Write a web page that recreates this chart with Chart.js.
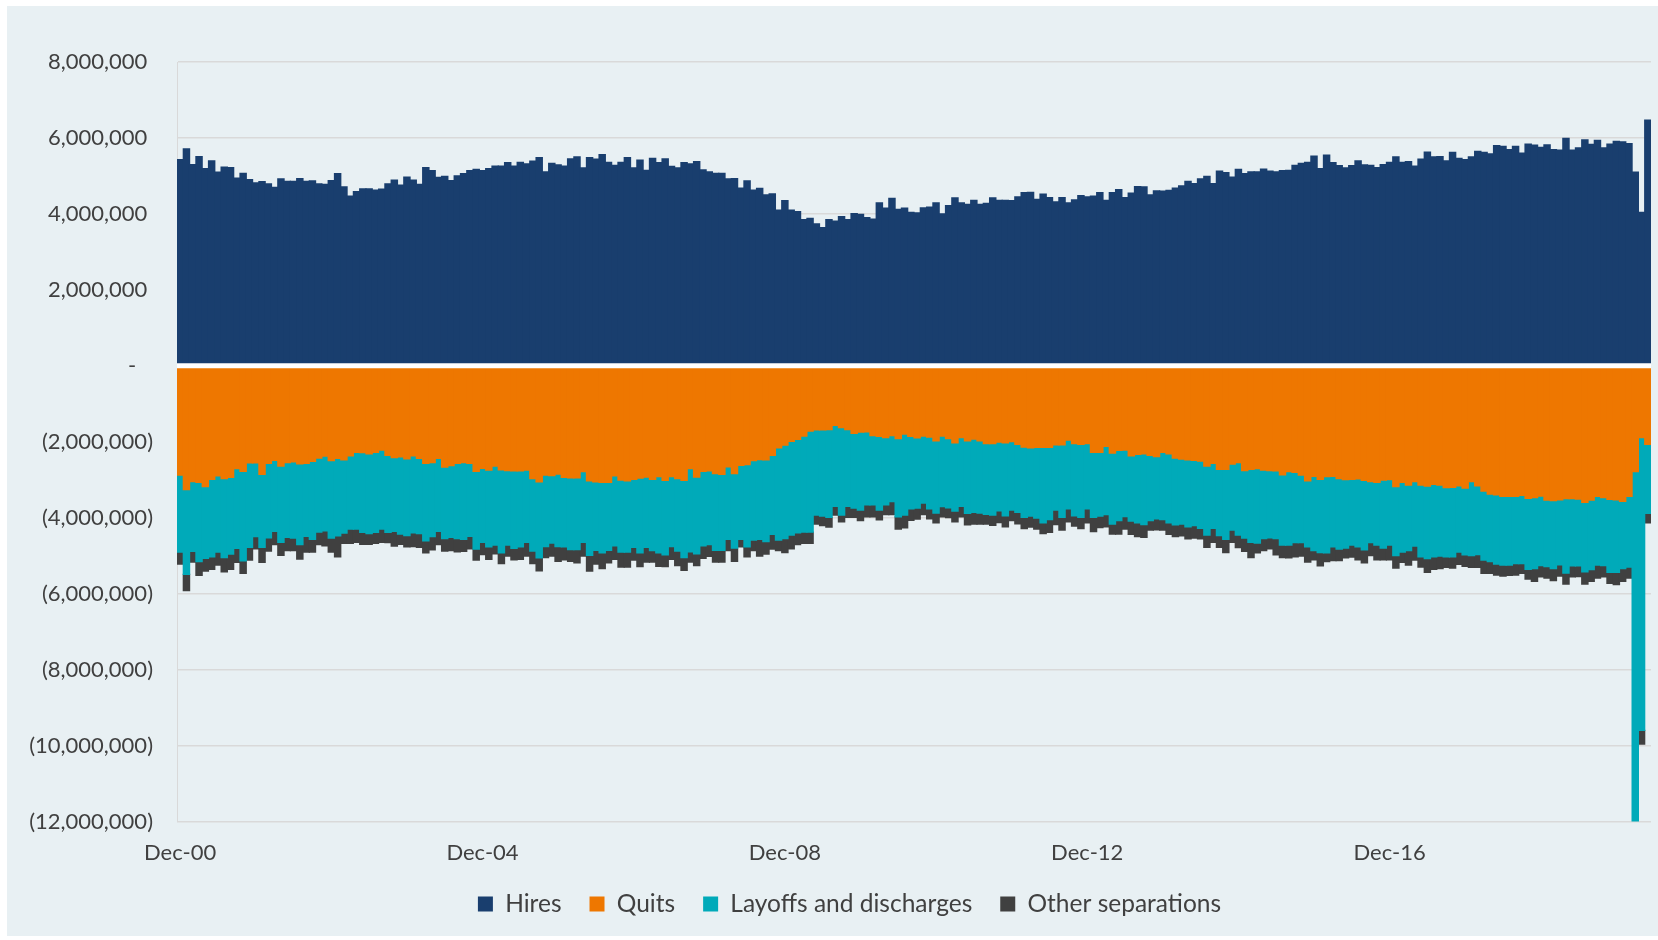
<!DOCTYPE html>
<html>
<head>
<meta charset="utf-8">
<title>Hires and separations</title>
<script src="https://cdn.jsdelivr.net/npm/chart.js@4.4.1/dist/chart.umd.min.js"></script>
<style>
    html, body { margin: 0; padding: 0; background: #ffffff; }
    #wrap { position: relative; width: 1658px; height: 940px; }
</style>
</head>
<body>
<div id="wrap"><canvas id="jobsChart" width="1658" height="940"></canvas></div>
<script>
// Monthly values in millions, Dec 2000 .. May 2020
const hires = [
    5.43,5.71,5.30,5.51,5.19,5.40,5.10,5.23,5.22,4.94,5.07,4.90,4.82,4.85,4.79,4.70,4.92,4.86,4.86,4.93,
    4.86,4.87,4.79,4.78,4.88,5.06,4.71,4.47,4.59,4.66,4.66,4.63,4.65,4.79,4.89,4.76,4.97,4.89,4.78,5.22,
    5.14,4.96,4.99,4.88,5.00,
    5.06,5.14,5.17,5.14,5.19,5.26,5.26,5.35,5.26,5.36,5.32,5.39,5.48,5.11,5.33,5.29,5.26,5.45,5.50,5.21,
    5.48,5.44,5.56,5.36,5.28,5.36,5.48,5.21,5.42,5.15,5.46,5.35,5.45,5.25,5.21,5.35,5.32,5.38,5.16,5.11,
    5.07,5.07,4.92,4.93,4.68,4.87,4.63,
    4.67,4.50,4.53,4.10,4.35,4.10,4.06,3.85,3.88,3.74,3.64,3.85,3.81,3.93,3.85,4.01,3.99,3.90,3.86,4.29,
    4.15,4.41,4.12,4.15,4.04,4.03,4.16,4.18,4.29,4.00,4.22,4.42,4.29,4.25,4.36,4.25,4.28,4.42,4.36,4.36,
    4.35,4.45,4.56,4.57,4.38,4.52,
    4.43,4.32,4.43,4.29,4.37,4.48,4.45,4.47,4.56,4.36,4.56,4.64,4.43,4.55,4.72,4.71,4.50,4.61,4.60,4.62,
    4.68,4.74,4.86,4.80,4.92,4.99,4.80,5.13,5.09,4.97,5.17,5.06,5.11,5.11,5.18,5.13,5.11,5.14,5.15,5.28,
    5.33,5.36,5.52,5.19,5.55,5.35,
    5.27,5.21,5.27,5.40,5.29,5.28,5.22,5.30,5.36,5.50,5.36,5.38,5.26,5.44,5.63,5.50,5.51,5.40,5.62,5.46,
    5.43,5.50,5.65,5.62,5.58,5.80,5.78,5.69,5.78,5.60,5.84,5.81,5.75,5.82,5.69,5.68,5.99,5.68,5.74,5.95,
    5.83,5.94,5.74,5.84,5.91,5.90,5.85,5.10,4.04,6.47
];

const quits = [
    2.88,3.26,3.05,3.07,3.18,2.99,2.90,2.97,2.94,2.71,2.78,2.56,2.56,2.86,2.57,2.49,2.64,2.55,2.53,2.58,
    2.57,2.52,2.43,2.38,2.50,2.44,2.48,2.37,2.28,2.29,2.32,2.28,2.22,2.36,2.42,2.40,2.45,2.37,2.44,2.57,
    2.55,2.44,2.67,2.63,2.57,
    2.55,2.57,2.78,2.70,2.75,2.64,2.74,2.76,2.77,2.77,2.75,2.97,3.06,2.88,2.89,2.85,2.94,2.95,2.95,2.79,
    3.03,3.06,3.07,3.07,2.90,3.01,3.03,2.99,2.96,2.93,2.99,2.92,3.02,2.92,2.97,3.02,2.71,2.93,2.78,2.77,
    2.84,2.86,2.66,2.84,2.62,2.60,
    2.50,2.47,2.48,2.36,2.16,2.09,1.99,1.94,1.85,1.72,1.69,1.69,1.68,1.57,1.63,1.68,1.78,1.75,1.74,1.84,
    1.86,1.89,1.84,1.92,1.80,1.86,1.90,1.85,1.88,1.98,1.85,1.92,2.03,1.89,1.98,1.93,1.98,2.05,2.05,2.01,
    2.03,2.00,2.07,2.14,2.16,2.15,
    2.15,2.15,2.08,2.08,1.96,2.05,2.07,2.05,2.28,2.28,2.12,2.30,2.23,2.22,2.37,2.33,2.32,2.36,2.39,2.28,
    2.32,2.43,2.46,2.48,2.49,2.51,2.64,2.57,2.73,2.73,2.59,2.55,2.76,2.73,2.71,2.75,2.76,2.77,2.87,2.79,
    2.81,2.88,3.03,2.91,2.99,2.92,
    2.91,2.97,3.00,2.99,2.98,3.02,3.05,3.07,3.01,3.00,3.18,3.07,3.14,3.05,3.14,3.17,3.12,3.14,3.21,3.20,
    3.16,3.22,3.05,3.16,3.30,3.38,3.40,3.44,3.44,3.44,3.41,3.49,3.47,3.43,3.54,3.55,3.53,3.50,3.50,3.51,
    3.60,3.54,3.44,3.47,3.52,3.53,3.57,3.44,2.79,1.89,2.07
];

const layoffs = [
    2.03,2.23,1.84,2.09,1.89,2.04,2.01,2.08,2.02,2.10,2.36,2.22,1.94,1.92,1.96,1.87,2.01,1.97,2.01,2.13,
    1.92,2.05,1.95,1.97,2.04,2.04,1.93,1.93,2.02,2.10,2.10,2.11,2.08,2.03,1.94,2.03,2.02,2.03,1.98,2.04,
    1.95,1.92,1.88,1.89,1.98,
    2.02,1.92,2.05,1.95,2.02,2.08,2.19,1.96,2.04,2.00,1.90,1.91,2.00,1.88,1.78,1.91,1.83,1.89,1.89,1.86,
    1.96,1.80,1.86,1.79,1.84,1.90,1.88,1.79,1.97,1.85,1.88,2.01,1.96,1.84,1.91,2.03,2.19,2.02,1.96,1.94,
    2.02,2.00,1.91,1.96,1.95,2.17,
    2.09,2.10,2.15,2.08,2.43,2.46,2.47,2.46,2.53,2.66,2.24,2.27,2.31,2.13,2.30,2.02,1.97,2.05,1.92,1.82,
    1.94,1.77,1.74,2.06,2.13,1.91,1.85,1.77,1.89,1.90,1.86,1.82,1.80,1.81,1.91,1.93,1.90,1.86,1.88,1.81,
    1.92,1.80,1.79,1.85,1.80,1.86,
    1.99,1.90,1.72,1.91,1.81,1.90,1.92,1.72,1.71,1.68,1.80,1.87,1.85,1.75,1.72,1.81,1.86,1.72,1.64,1.77,
    1.82,1.76,1.71,1.76,1.72,1.77,1.82,1.71,1.74,1.84,1.74,1.91,1.78,1.92,1.96,1.80,1.77,1.78,1.85,1.93,
    1.85,1.78,1.74,1.96,1.93,2.01,
    1.86,1.86,1.80,1.73,1.79,1.83,1.61,1.65,1.79,1.72,1.82,1.84,1.73,1.70,1.89,1.91,1.91,1.87,1.82,1.83,
    1.75,1.76,1.95,1.81,1.82,1.78,1.82,1.81,1.81,1.77,1.80,1.87,1.87,1.83,1.75,1.79,1.71,1.96,1.77,1.76,
    1.83,1.83,1.81,1.79,1.92,1.91,1.77,1.86,11.50,7.71,1.82
];

const otherSeps = [
    0.31,0.43,0.28,0.36,0.34,0.33,0.34,0.38,0.40,0.37,0.33,0.34,0.32,0.40,0.35,0.35,0.34,0.35,0.33,0.38,
    0.42,0.34,0.33,0.39,0.37,0.55,0.27,0.38,0.35,0.31,0.28,0.29,0.35,0.27,0.39,0.27,0.30,0.36,0.36,0.32,
    0.35,0.35,0.33,0.35,0.35,
    0.32,0.33,0.29,0.32,0.33,0.23,0.28,0.29,0.30,0.33,0.36,0.33,0.34,0.29,0.34,0.39,0.34,0.31,0.35,0.36,
    0.42,0.36,0.41,0.33,0.36,0.39,0.39,0.34,0.36,0.39,0.30,0.35,0.31,0.34,0.38,0.34,0.27,0.31,0.33,0.31,
    0.31,0.31,0.30,0.35,0.20,0.26,
    0.28,0.44,0.33,0.39,0.28,0.37,0.36,0.31,0.30,0.30,0.24,0.25,0.26,0.23,0.18,0.29,0.24,0.28,0.32,0.32,
    0.26,0.26,0.34,0.32,0.34,0.30,0.29,0.30,0.26,0.26,0.27,0.26,0.28,0.28,0.30,0.31,0.29,0.26,0.27,0.31,
    0.29,0.28,0.30,0.30,0.29,0.29,
    0.28,0.34,0.38,0.34,0.34,0.27,0.30,0.37,0.38,0.30,0.32,0.26,0.35,0.33,0.35,0.36,0.34,0.25,0.29,0.28,
    0.30,0.31,0.31,0.32,0.33,0.28,0.32,0.37,0.31,0.35,0.32,0.33,0.35,0.40,0.26,0.32,0.29,0.43,0.33,0.34,
    0.37,0.35,0.40,0.24,0.35,0.23,
    0.36,0.30,0.26,0.32,0.34,0.34,0.34,0.39,0.31,0.39,0.33,0.27,0.38,0.37,0.27,0.36,0.33,0.33,0.28,0.30,
    0.32,0.30,0.31,0.34,0.35,0.31,0.29,0.29,0.27,0.30,0.26,0.26,0.34,0.30,0.30,0.32,0.30,0.29,0.29,0.28,
    0.32,0.31,0.34,0.30,0.29,0.32,0.34,0.29,0.35,0.36,0.25
];

// Axis tick labels
const xTickLabels = ['Dec-00', 'Dec-04', 'Dec-08', 'Dec-12', 'Dec-16'];
const yTicks = [8, 6, 4, 2, 0, -2, -4, -6, -8, -10, -12];
const monthNames = ['Jan','Feb','Mar','Apr','May','Jun','Jul','Aug','Sep','Oct','Nov','Dec'];

// Month categories starting Dec-00
const months = hires.map(function(_, i) {
    const m = (11 + i) % 12;
    const y = Math.floor((11 + i) / 12);
    return monthNames[m] + '-' + String(y).padStart(2, '0');
});

const textColor = '#404040';
const fontFamily = 'Lato, "Open Sans", sans-serif';

// Light panel behind the chart
const panelBackground = {
    id: 'panelBackground',
    beforeDraw: function(chart) {
        const ctx = chart.ctx;
        ctx.save();
        ctx.fillStyle = '#ffffff';
        ctx.fillRect(0, 0, chart.width, chart.height);
        ctx.fillStyle = '#E8F0F3';
        ctx.fillRect(7, 6, chart.width - 7, chart.height - 10);
        ctx.restore();
    }
};

// White line at zero separating hires from separations
const zeroLine = {
    id: 'zeroLine',
    afterDatasetsDraw: function(chart) {
        const y = chart.scales.y.getPixelForValue(0);
        const area = chart.chartArea;
        const ctx = chart.ctx;
        ctx.save();
        ctx.strokeStyle = '#ffffff';
        ctx.lineWidth = 5;
        ctx.beginPath();
        ctx.moveTo(area.left, y);
        ctx.lineTo(area.right, y);
        ctx.stroke();
        ctx.restore();
    }
};

// Legend sits a little right of the canvas centre, like the original
const legendShift = {
    id: 'legendShift',
    afterLayout: function(chart) {
        chart.legend.left += 24;
        chart.legend.right += 24;
    }
};

function negate(arr) {
    return arr.map(function(v) { return -v; });
}

const ctx = document.getElementById('jobsChart').getContext('2d');
const jobsChart = new Chart(ctx, {
    type: 'bar',
    data: {
        labels: months,
        datasets: [
            { label: 'Hires', data: hires, backgroundColor: '#193E6E' },
            { label: 'Quits', data: negate(quits), backgroundColor: '#EE7700' },
            { label: 'Layoffs and discharges', data: negate(layoffs), backgroundColor: '#00AAB9' },
            { label: 'Other separations', data: negate(otherSeps), backgroundColor: '#404040' }
        ]
    },
    options: {
        responsive: false,
        animation: false,
        devicePixelRatio: 1,
        datasets: {
            bar: {
                barPercentage: 1,
                categoryPercentage: 1,
                borderWidth: 0,
                inflateAmount: 0.6,
                stack: 'jolts'
            }
        },
        layout: {
            padding: { top: 62, right: 7, bottom: 13.75, left: 0 }
        },
        plugins: {
            legend: {
                position: 'bottom',
                labels: {
                    color: textColor,
                    font: { family: fontFamily, size: 24.5 },
                    boxWidth: 15,
                    boxHeight: 15,
                    padding: 28
                }
            },
            tooltip: { enabled: false }
        },
        scales: {
            x: {
                stacked: true,
                afterFit: function(scale) {
                    scale.height = 42.25;
                    scale.paddingRight = 0;
                },
                grid: { display: false, drawTicks: false },
                border: { display: false },
                ticks: {
                    autoSkip: false,
                    maxRotation: 0,
                    minRotation: 0,
                    padding: 18,
                    color: textColor,
                    font: { family: fontFamily, size: 22 },
                    callback: function(value) {
                        const label = this.getLabelForValue(value);
                        return xTickLabels.includes(label) ? label : '';
                    }
                }
            },
            y: {
                stacked: true,
                min: yTicks[yTicks.length - 1],
                max: yTicks[0],
                afterFit: function(scale) { scale.width = 177; },
                afterBuildTicks: function(scale) {
                    scale.ticks = yTicks.map(function(v) { return { value: v }; });
                },
                grid: { color: '#D9D9D9', lineWidth: 1.5, drawTicks: false },
                border: { display: true, color: '#D9D9D9', width: 1 },
                ticks: {
                    padding: 24,
                    color: textColor,
                    font: { family: fontFamily, size: 22 },
                    callback: function(value) {
                        const n = Math.abs(value * 1000000).toLocaleString('en-US');
                        if (value === 0) return '-   ';
                        if (value < 0) return '(' + n + ')';
                        return n + ' ';
                    }
                }
            }
        }
    },
    plugins: [panelBackground, zeroLine, legendShift]
});
</script>
</body>
</html>
